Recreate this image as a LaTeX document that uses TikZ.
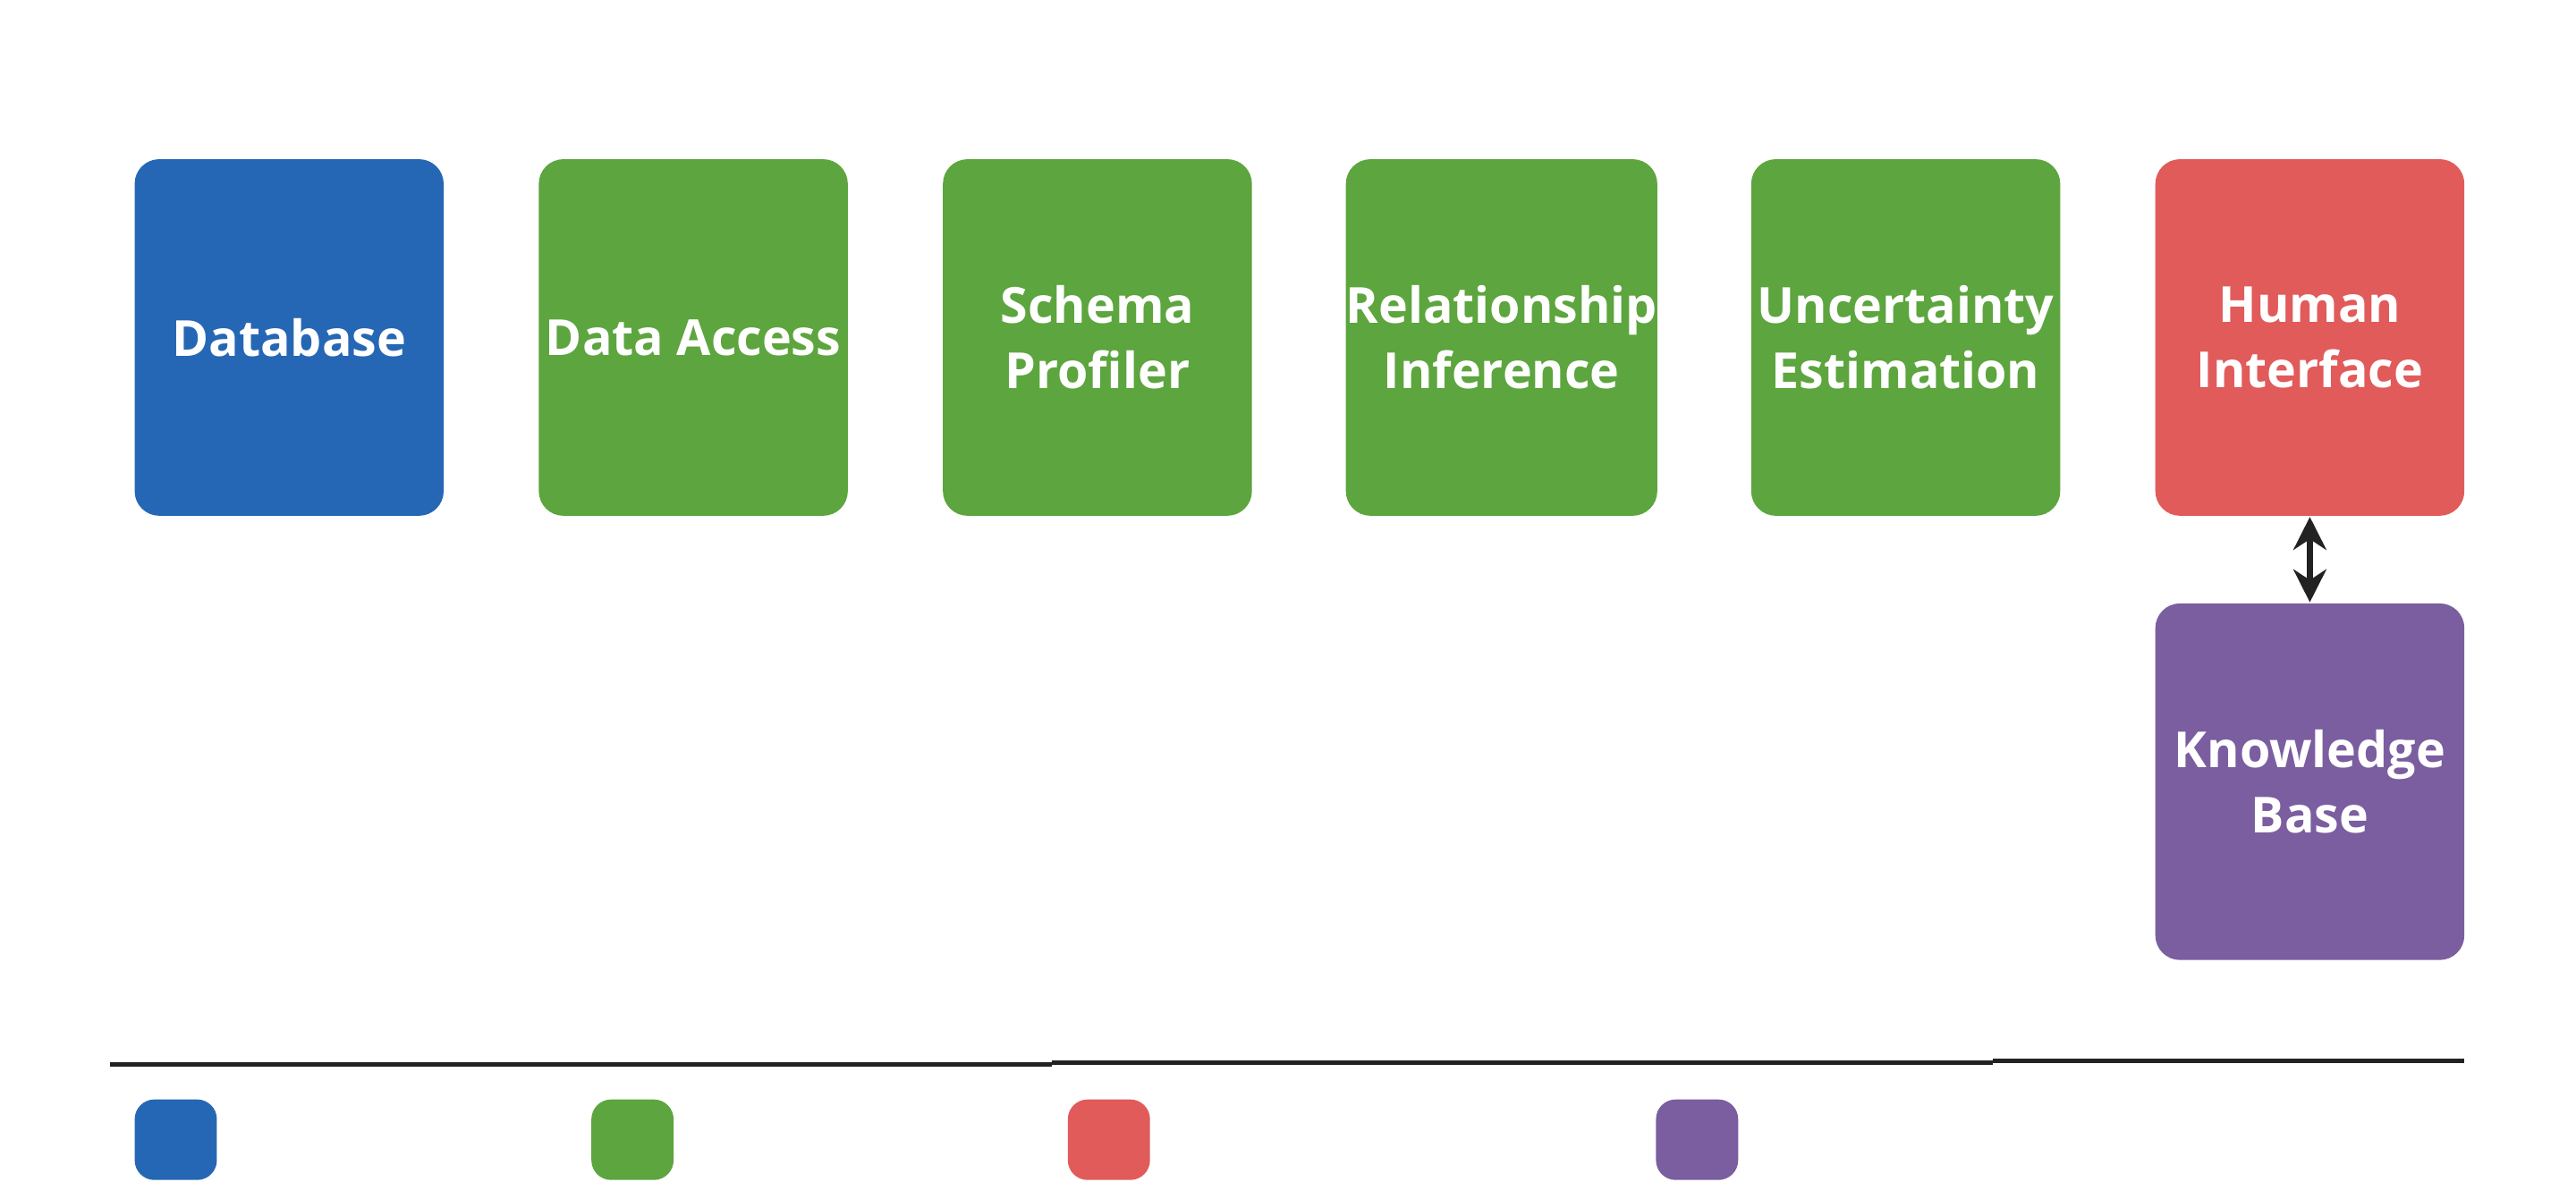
\documentclass[tikz,border=0pt]{standalone}
\usepackage{fontspec}
\setmainfont{Open Sans}
\usetikzlibrary{positioning,arrows.meta}
\definecolor{dbblue}{HTML}{2567B4}
\definecolor{stepgreen}{HTML}{5DA53E}
\definecolor{uired}{HTML}{E15B5B}
\definecolor{kbpurple}{HTML}{7A5EA0}
\definecolor{inkdark}{HTML}{222222}
\tikzset{
  block/.style={rounded corners=0.15cm, minimum width=1.88cm, minimum height=2.17cm,
    text=white, align=center, inner sep=0pt,
    font=\fontsize{8.6}{11.3}\selectfont\bfseries},
  key/.style={rounded corners=0.12cm, minimum width=0.5cm, minimum height=0.49cm, inner sep=0pt},
  rule/.style={line width=0.8pt, inkdark}
}
\begin{document}
\begin{tikzpicture}[x=0.01cm, y=-0.01cm]
    \useasboundingbox (0,0) rectangle (1568,730);

    % Pipeline blocks
    \node[block, fill=dbblue] (db) at (176,205.5) {Database};
    \node[block, fill=stepgreen] (access) at (422,205.5) {Data Access};
    \node[block, fill=stepgreen] (profiler) at (668,205.5) {Schema\\Profiler};
    \node[block, fill=stepgreen] (infer) at (914,205.5) {Relationship\\Inference};
    \node[block, fill=stepgreen] (uncert) at (1160,205.5) {Uncertainty\\Estimation};
    \node[block, fill=uired] (human) at (1406,205.5) {Human\\Interface};
    \node[block, fill=kbpurple] (kb) at (1406,476) {Knowledge\\Base};

    \draw[line width=1.1pt, inkdark, {Stealth[length=0.2cm,width=0.2cm]}-{Stealth[length=0.2cm,width=0.2cm]}]
        (human) -- (kb);

    % Legend rule
    \coordinate (r0) at (67,648);
    \coordinate (r1) at (640,648);
    \coordinate (r2) at (640,647);
    \coordinate (r3) at (1213,647);
    \coordinate (r4) at (1213,646);
    \coordinate (r5) at (1500,646);
    \draw[rule] (r0) -- (r1);
    \draw[rule] (r2) -- (r3);
    \draw[rule] (r4) -- (r5);

    % Legend keys
    \node[key, fill=dbblue] (k1) at (107,694) {};
    \node[key, fill=stepgreen] (k2) at (385,694) {};
    \node[key, fill=uired] (k3) at (675,694) {};
    \node[key, fill=kbpurple] (k4) at (1033,694) {};
\end{tikzpicture}
\end{document}
